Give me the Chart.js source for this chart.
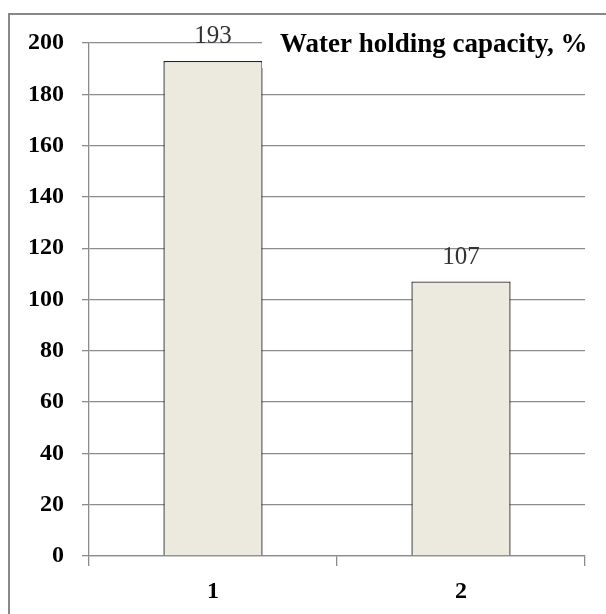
<!DOCTYPE html>
<html>
<head>
<meta charset="utf-8">
<script src="https://cdn.jsdelivr.net/npm/chart.js@4/dist/chart.umd.min.js"></script>
<style>
html,body{margin:0;padding:0;background:#fff;}
#wrap{width:606px;height:614px;position:relative;}
</style>
</head>
<body>
<div id="wrap"><canvas id="c" width="606" height="614"></canvas></div>
<script>
const categories = ['1', '2'];
const values = [193, 107];
const yTicks = [0, 20, 40, 60, 80, 100, 120, 140, 160, 180, 200];
const titleText = 'Water holding capacity, %';

const FONT = '"Liberation Serif", "Times New Roman", serif';

const framePlugin = {
  id: 'frame',
  beforeDraw(chart) {
    const ctx = chart.ctx;
    ctx.save();
    ctx.fillStyle = '#fff';
    ctx.fillRect(0, 0, chart.width, chart.height);
    ctx.strokeStyle = '#888';
    ctx.lineWidth = 2;
    ctx.strokeRect(9, 14, 620, 640);
    ctx.restore();
  }
};

const labelPlugin = {
  id: 'labels',
  afterDatasetsDraw(chart) {
    const ctx = chart.ctx;
    const meta = chart.getDatasetMeta(0);
    ctx.save();
    ctx.font = '25px ' + FONT;
    ctx.fillStyle = '#333';
    ctx.textAlign = 'center';
    ctx.textBaseline = 'alphabetic';
    meta.data.forEach((bar, i) => {
      ctx.fillText(String(values[i]), bar.x, bar.y - 18);
    });
    // title box
    ctx.fillStyle = '#fff';
    ctx.fillRect(262, 24, 340, 44);
    ctx.font = 'bold 27px ' + FONT;
    ctx.fillStyle = '#000';
    ctx.textAlign = 'left';
    ctx.fillText(titleText, 280, 52);
    ctx.restore();
  }
};

new Chart(document.getElementById('c'), {
  type: 'bar',
  data: {
    labels: categories,
    datasets: [{
      data: values,
      backgroundColor: '#ECE9DF',
      borderColor: '#222',
      borderWidth: 1.3,
      barPercentage: 0.4,
      categoryPercentage: 1.0
    }]
  },
  options: {
    responsive: false,
    animation: false,
    devicePixelRatio: 1,
    layout: { padding: { top: 43, right: 21, left: 0, bottom: 0 } },
    plugins: { legend: { display: false }, tooltip: { enabled: false }, title: { display: false } },
    scales: {
      y: {
        min: 0, max: 200,
        afterBuildTicks(scale) { scale.ticks = yTicks.map(v => ({ value: v })); },
        afterFit(scale) { scale.width = 89; },
        ticks: { font: { family: FONT, size: 24, weight: 'bold' }, color: '#000', padding: 18 },
        grid: { color: '#8c8c8c', lineWidth: 1.3, tickLength: 7, drawTicks: true },
        border: { color: '#8c8c8c', width: 1.3 }
      },
      x: {
        afterFit(scale) { scale.height = 614 - 556; },
        ticks: { font: { family: FONT, size: 24, weight: 'bold' }, color: '#000', padding: 11 },
        grid: { offset: true, drawOnChartArea: false, drawTicks: true, tickLength: 10, color: '#8c8c8c', lineWidth: 1.3 },
        border: { color: '#8c8c8c', width: 1.3 }
      }
    }
  },
  plugins: [framePlugin, labelPlugin]
});
</script>
</body>
</html>
